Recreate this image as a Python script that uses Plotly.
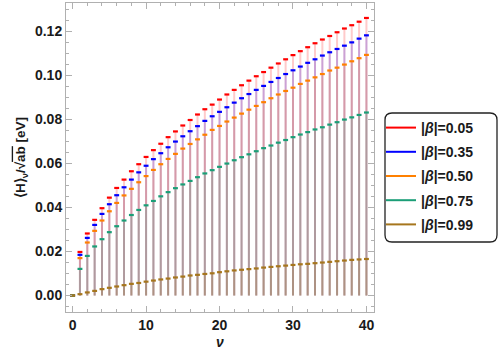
import plotly.graph_objects as go

nu = list(range(0, 41))

beta_labels = ["|<i>β</i>|=0.05", "|<i>β</i>|=0.35", "|<i>β</i>|=0.50", "|<i>β</i>|=0.75", "|<i>β</i>|=0.99"]

h_b005 = [0, 0.0198, 0.0282, 0.0344, 0.0397, 0.0445, 0.0489, 0.0527, 0.0565, 0.0597,
          0.0630, 0.0661, 0.0690, 0.0720, 0.0746, 0.0773, 0.0798, 0.0823, 0.0847, 0.0868,
          0.0891, 0.0914, 0.0935, 0.0956, 0.0977, 0.0997, 0.1016, 0.1036, 0.1055, 0.1074,
          0.1093, 0.1111, 0.1129, 0.1147, 0.1164, 0.1180, 0.1197, 0.1214, 0.1229, 0.1245,
          0.1262]
h_b035 = [0, 0.0185, 0.0262, 0.0321, 0.0371, 0.0415, 0.0456, 0.0492, 0.0527, 0.0560,
          0.0590, 0.0620, 0.0647, 0.0674, 0.0700, 0.0724, 0.0747, 0.0770, 0.0794, 0.0815,
          0.0835, 0.0856, 0.0877, 0.0897, 0.0916, 0.0935, 0.0953, 0.0971, 0.0989, 0.1007,
          0.1024, 0.1041, 0.1058, 0.1074, 0.1091, 0.1106, 0.1121, 0.1136, 0.1151, 0.1168,
          0.1183]
h_b050 = [0, 0.0170, 0.0241, 0.0294, 0.0341, 0.0383, 0.0421, 0.0455, 0.0485, 0.0515,
          0.0543, 0.0571, 0.0597, 0.0621, 0.0644, 0.0668, 0.0689, 0.0710, 0.0731, 0.0753,
          0.0771, 0.0791, 0.0809, 0.0827, 0.0845, 0.0862, 0.0879, 0.0897, 0.0914, 0.0930,
          0.0945, 0.0962, 0.0977, 0.0992, 0.1007, 0.1023, 0.1036, 0.1050, 0.1065, 0.1079,
          0.1094]
h_b075 = [0, 0.0121, 0.0180, 0.0223, 0.0256, 0.0288, 0.0315, 0.0341, 0.0366, 0.0389,
          0.0410, 0.0430, 0.0451, 0.0470, 0.0488, 0.0505, 0.0521, 0.0538, 0.0555, 0.0570,
          0.0585, 0.0600, 0.0615, 0.0629, 0.0642, 0.0656, 0.0670, 0.0682, 0.0695, 0.0707,
          0.0720, 0.0732, 0.0743, 0.0755, 0.0765, 0.0777, 0.0788, 0.0800, 0.0810, 0.0821,
          0.0832]
h_b099 = [0, 0.0006, 0.0014, 0.0021, 0.0029, 0.0035, 0.0041, 0.0047, 0.0053, 0.0057,
          0.0063, 0.0068, 0.0073, 0.0077, 0.0082, 0.0086, 0.0091, 0.0094, 0.0098, 0.0101,
          0.0106, 0.0110, 0.0114, 0.0117, 0.0120, 0.0123, 0.0127, 0.0130, 0.0133, 0.0136,
          0.0139, 0.0142, 0.0144, 0.0147, 0.0150, 0.0153, 0.0156, 0.0159, 0.0162, 0.0164,
          0.0166]

series = [h_b005, h_b035, h_b050, h_b075, h_b099]
colors = ["#ff0000", "#0000ff", "#ff8000", "#1b9e77", "#a6761d"]

x_ticks = [0, 10, 20, 30, 40]
y_ticks = [0.00, 0.02, 0.04, 0.06, 0.08, 0.10, 0.12]

fig = go.Figure()

# stems (filling to axis)
for vals, col in zip(series, colors):
    xs, ys = [], []
    for x, y in zip(nu, vals):
        xs += [x, x, None]
        ys += [0, y, None]
    fig.add_trace(go.Scatter(x=xs, y=ys, mode="lines", line=dict(color=col, width=2),
                             opacity=0.2, showlegend=False, hoverinfo="skip"))

# points
for vals, col in zip(series, colors):
    fig.add_trace(go.Scatter(x=nu, y=vals, mode="markers",
                             marker=dict(symbol="line-ew", size=3.5,
                                         line=dict(color=col, width=2.2)),
                             showlegend=False))

# legend entries
for i, (lab, col) in enumerate(zip(beta_labels, colors)):
    fig.add_trace(go.Scatter(x=[None], y=[None], mode="lines", name=lab,
                             line=dict(color=col, width=2), legendgroup=f"g{i}"))

font_main = dict(family="Liberation Sans, Arial", size=14, color="#1a1a1a", weight="bold")

axis_common = dict(
    showline=True, linecolor="#b0b0b0", linewidth=1, mirror="allticks",
    ticks="inside", ticklen=6, tickcolor="#b0b0b0", tickwidth=1,
    showgrid=False, zeroline=False, automargin=False,
    tickfont=font_main,
)

fig.update_xaxes(range=[-0.9, 41.03], tickvals=x_ticks,
                 minor=dict(ticks="inside", ticklen=3, tickcolor="#b0b0b0", dtick=2, tick0=0),
                 title=dict(text="<i>ν</i>", font=font_main, standoff=5),
                 **axis_common)
fig.update_yaxes(range=[-0.0075, 0.133], tickvals=y_ticks, tickformat=".2f",
                 minor=dict(ticks="inside", ticklen=3, tickcolor="#b0b0b0", dtick=0.005, tick0=0),
                 title=dict(text="⟨H⟩<sub>ν</sub>/√<span style='text-decoration:overline'>ab</span> [eV]",
                            font=dict(family="Liberation Sans, Arial", size=13.5,
                                      color="#1a1a1a", weight="bold"),
                            standoff=6),
                 **axis_common)

# rounded legend frame
x0p, x1p = (385 - 66) / 308, (497 - 66) / 308
y1p, y0p = (312 - 113) / 309, (312 - 242) / 309
rx, ry = 7 / 308, 7 / 309
path = (f"M {x0p+rx},{y1p} L {x1p-rx},{y1p} Q {x1p},{y1p} {x1p},{y1p-ry} "
        f"L {x1p},{y0p+ry} Q {x1p},{y0p} {x1p-rx},{y0p} "
        f"L {x0p+rx},{y0p} Q {x0p},{y0p} {x0p},{y0p+ry} "
        f"L {x0p},{y1p-ry} Q {x0p},{y1p} {x0p+rx},{y1p} Z")
fig.add_shape(type="path", path=path, xref="paper", yref="paper",
              line=dict(color="#222222", width=1.3), fillcolor="rgba(0,0,0,0)")

fig.update_layout(
    width=498, height=355,
    margin=dict(l=66, r=124, t=3, b=43),
    plot_bgcolor="white", paper_bgcolor="white",
    legend=dict(x=(381 - 66) / 308, y=(312 - 112) / 309, xanchor="left", yanchor="top",
                traceorder="grouped", tracegroupgap=3, bgcolor="rgba(0,0,0,0)",
                font=font_main, itemwidth=30),
)

fig.write_html("out.html", config={"displayModeBar": False},
               post_script="document.body.style.margin='0';")
